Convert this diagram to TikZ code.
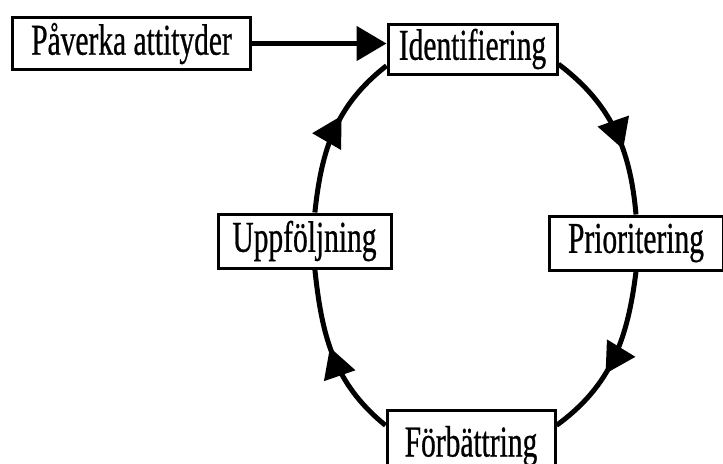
\documentclass[tikz,border=0pt]{standalone}
\usepackage{fontspec}
\setmainfont[FakeStretch=0.67,FakeBold=0.6]{Liberation Serif}
\usetikzlibrary{arrows.meta,decorations.markings}

\begin{document}
\begin{tikzpicture}[x=0.5pt,y=0.5pt,line width=2.5pt,
    stepbox/.style={draw,fill=white,line width=1.5pt,inner sep=0pt,
      font=\fontsize{22}{26}\selectfont},
    midarrow/.style={postaction={decorate},decoration={markings,
      mark=at position #1 with {\arrow{Triangle[length=15pt,width=16pt]}}}}]
  \useasboundingbox (0,0) rectangle (723,-463);
  % boxes
  \node[stepbox,minimum width=119pt,minimum height=26pt] (pav) at (131.5,-43.5) {Påverka attityder};
  \node[stepbox,minimum width=84.5pt,minimum height=25pt] (ide) at (472.5,-49) {Identifiering};
  \node[stepbox,minimum width=87pt,minimum height=27pt] (pri) at (636,-243) {Prioritering};
  \node[stepbox,minimum width=86.5pt,minimum height=27pt] (upp) at (304.5,-241) {Uppföljning};
  \node[stepbox,minimum width=84pt,anchor=north,text height=23pt,text depth=10pt] (forb) at (471,-409) {Förbättring};
  % input
  \draw[-{Triangle[length=15pt,width=17pt]}] (pav.east) -- (pav.east -| ide.west);
  % cycle
  \draw[midarrow=0.62] (ide.-10) to[out=-37,in=95] (pri.north);
  \draw[midarrow=0.6] (pri.south) to[out=-97,in=36] (forb.12);
  \draw[midarrow=0.55] (forb.168) to[out=141,in=-84] (upp.-70);
  \draw[midarrow=0.6] (upp.70) to[out=84,in=218] (ide.191);
\end{tikzpicture}
\end{document}
